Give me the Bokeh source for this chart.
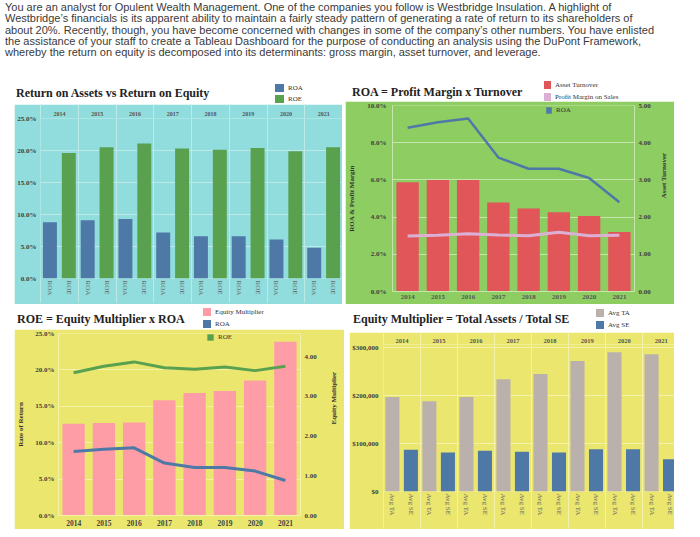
import math
from bokeh.plotting import figure
from bokeh.models import (ColumnDataSource, Range1d, FactorRange, LinearAxis, CategoricalAxis,
                          FixedTicker, PrintfTickFormatter, NumeralTickFormatter,
                          Legend, LegendItem, Div, Grid)
from bokeh.layouts import column, row
from bokeh.embed import file_html
from bokeh.resources import INLINE

# ---------------- data ----------------
years = ["2014", "2015", "2016", "2017", "2018", "2019", "2020", "2021"]
roa_pct = [8.8, 9.1, 9.3, 7.2, 6.6, 6.6, 6.1, 4.8]
roe_pct = [19.6, 20.5, 21.1, 20.3, 20.1, 20.4, 19.9, 20.5]
asset_turnover = [2.94, 3.00, 3.00, 2.39, 2.23, 2.13, 2.03, 1.60]
profit_margin_pct = [2.98, 3.02, 3.10, 3.04, 3.00, 3.18, 3.00, 3.02]
equity_multiplier = [2.31, 2.33, 2.34, 2.90, 3.08, 3.13, 3.40, 4.37]
avg_ta = [197000, 188000, 197000, 234000, 245000, 272000, 290000, 286000]
avg_se = [87000, 81500, 85000, 83000, 81000, 88000, 88000, 67000]
pair_labels_returns = ["ROA", "ROE"]
pair_labels_balance = ["Avg TA", "Avg SE"]
pct_ticks_5 = [0, 5, 10, 15, 20, 25]
pct_ticks_2 = [0, 2, 4, 6, 8, 10]
turnover_ticks = [0, 1, 2, 3, 4, 5]
multiplier_ticks = [0, 1, 2, 3, 4]
dollar_ticks = [0, 100000, 200000, 300000]

intro_lines = [
    "You are an analyst for Opulent Wealth Management. One of the companies you follow is Westbridge Insulation. A highlight of",
    "Westbridge\u2019s financials is its apparent ability to maintain a fairly steady pattern of generating a rate of return to its shareholders of",
    "about 20%. Recently, though, you have become concerned with changes in some of the company\u2019s other numbers. You have enlisted",
    "the assistance of your staff to create a Tableau Dashboard for the purpose of conducting an analysis using the DuPont Framework,",
    "whereby the return on equity is decomposed into its determinants: gross margin, asset turnover, and leverage.",
]

# ---------------- style ----------------
SERIF = "Liberation Serif"
BLUE = "#4e79a7"
GREEN = "#59a14f"
RED = "#e15759"
PINK = "#ff9da7"
LAV = "#dcafd4"
GRAY = "#bab0ac"
CYAN = "#91dcdc"
LGREEN = "#8dcd62"
YELLOW = "#ebe76e"
GRID_CYAN = "#bde9e9"
GRID_GREEN = "#c6e6ae"
GRID_YELLOW = "#f4f1a8"
TXT = "#404040"
NAN = float("nan")


def make_fig(w, h, xr, yr, left, right, top, bottom, bg):
    p = figure(width=w, height=h, x_range=xr, y_range=yr, x_axis_type=None, y_axis_type=None,
               min_border_left=left, min_border_right=right, min_border_top=top,
               min_border_bottom=bottom, output_backend="svg", toolbar_location=None, tools="")
    p.outline_line_color = None
    p.border_fill_color = bg
    p.background_fill_color = bg
    return p


def header_div(w, h, title, title_left, title_cy, items, item_left, item_cys, sq_w):
    parts = ['<div style="position:relative;width:%dpx;height:%dpx;">' % (w, h)]
    parts.append(
        '<div style="position:absolute;left:%spx;top:%spx;font-family:\'Liberation Serif\',serif;'
        'font-weight:bold;font-size:12px;line-height:14px;color:#222;white-space:nowrap;">%s</div>'
        % (title_left, title_cy - 7, title))
    for (label, color), cy in zip(items, item_cys):
        parts.append('<div style="position:absolute;left:%spx;top:%spx;width:%dpx;height:8px;'
                     'background:%s;"></div>' % (item_left, cy - 4, sq_w, color))
        parts.append(
            '<div style="position:absolute;left:%spx;top:%spx;font-family:\'Liberation Serif\',serif;'
            'font-size:7px;line-height:10px;color:#333;white-space:nowrap;">%s</div>'
            % (item_left + sq_w + 4, cy - 5, label))
    parts.append('</div>')
    return Div(text="".join(parts), width=w, height=h, margin=0)


def style_axis(ax, size="7px", bold=True, color=TXT, standoff=4):
    ax.major_label_text_font = SERIF
    ax.major_label_text_font_size = size
    ax.major_label_text_font_style = "bold" if bold else "normal"
    ax.major_label_text_color = color
    ax.major_tick_line_color = None
    ax.minor_tick_line_color = None
    ax.axis_line_color = None
    ax.major_tick_out = 0
    ax.major_tick_in = 0
    ax.minor_tick_out = 0
    ax.minor_tick_in = 0
    ax.major_label_standoff = standoff
    ax.axis_label_text_font = SERIF
    ax.axis_label_text_font_size = "7px"
    ax.axis_label_text_font_style = "bold"
    ax.axis_label_text_color = "#333333"


def axis_title(ax, text, standoff, bottom_to_top=False):
    ax.axis_label = text
    ax.axis_label_standoff = standoff
    if bottom_to_top and hasattr(ax, "axis_label_orientation"):
        ax.axis_label_orientation = math.pi / 2


def add_legend(p, items, loc, gw, gh, spacing):
    lg = Legend(items=[LegendItem(label=t, renderers=[r]) for t, r in items],
                location=loc, orientation="vertical", glyph_width=gw, glyph_height=gh,
                label_height=gh, label_width=10, spacing=spacing, padding=0, margin=0,
                label_standoff=4, border_line_color=None, background_fill_alpha=0.0,
                label_text_font=SERIF, label_text_font_size="7px",
                label_text_color="#333333")
    p.add_layout(lg, "center")


def proxy(p, x0, color):
    # legend-only renderer: NaN height, so nothing is drawn in the plot
    return p.vbar(x=[x0], top=[NAN], width=0.5, fill_color=color, line_color=None)


n = len(years)
boundaries = list(range(n + 1))
centers = [round(i + 0.5, 2) for i in range(n)]

# ================= Top-left: ROA vs ROE =================
tl_head = header_div(328, 28, "Return on Assets vs Return on Equity", 2, 17,
                     [("ROA", BLUE), ("ROE", GREEN)], 261, [12, 23], 9)

tl = make_fig(328, 200, Range1d(0, 8), Range1d(0, 25), 23, 0, 14, 26, CYAN)
x_first = [round(i + 0.25, 2) for i in range(n)]
x_second = [round(i + 0.75, 2) for i in range(n)]
tl.add_layout(Grid(dimension=0, ticker=FixedTicker(ticks=boundaries),
                   grid_line_color=GRID_CYAN, grid_line_width=1))
tl.add_layout(Grid(dimension=1, ticker=FixedTicker(ticks=pct_ticks_5),
                   grid_line_color=GRID_CYAN, grid_line_width=1))
src_tl = ColumnDataSource(dict(xa=x_first, xb=x_second, roa=roa_pct, roe=roe_pct))
tl.vbar(x="xa", top="roa", width=0.37, source=src_tl, fill_color=BLUE, line_color=None)
tl.vbar(x="xb", top="roe", width=0.37, source=src_tl, fill_color=GREEN, line_color=None)

ax = LinearAxis(ticker=FixedTicker(ticks=pct_ticks_5), formatter=PrintfTickFormatter(format="%.1f%%"))
style_axis(ax, standoff=4)
tl.add_layout(ax, "left")

overrides = {}
for i in range(n):
    overrides[x_first[i]] = pair_labels_returns[0]
    overrides[x_second[i]] = pair_labels_returns[1]
ax = LinearAxis(ticker=FixedTicker(ticks=x_first + x_second, minor_ticks=boundaries),
                major_label_overrides=overrides, major_label_orientation="vertical")
style_axis(ax, size="7px", bold=False, color="#666666", standoff=-22)
ax.minor_tick_out = 24
ax.minor_tick_line_color = GRID_CYAN
tl.add_layout(ax, "below")

ax = LinearAxis(ticker=FixedTicker(ticks=centers, minor_ticks=boundaries),
                major_label_overrides={centers[i]: years[i] for i in range(n)})
style_axis(ax, size="6px", bold=True, color="#555555", standoff=-11)
ax.minor_tick_out = 14
ax.minor_tick_line_color = GRID_CYAN
tl.add_layout(ax, "above")

# ================= Top-right: ROA = Profit Margin x Turnover =================
tr_head = header_div(329, 25, "ROA = Profit Margin x Turnover", 7, 16,
                     [("Asset Turnover", RED), ("Profit Margin on Sales", LAV)], 199, [9, 21], 7)

tr = make_fig(329, 203, FactorRange(*years), Range1d(0, 10), 46, 35, 4, 13, LGREEN)
tr.extra_y_ranges = {"turn": Range1d(0, 5)}
tr.add_layout(Grid(dimension=1, ticker=FixedTicker(ticks=pct_ticks_2),
                   grid_line_color=GRID_GREEN, grid_line_width=1.2))
src_tr = ColumnDataSource(dict(year=years, at=asset_turnover, roa=roa_pct, pm=profit_margin_pct))
tr.vbar(x="year", top="at", width=0.74, source=src_tr, y_range_name="turn",
        fill_color=RED, line_color=None)
tr.line(x="year", y="pm", source=src_tr, line_color=LAV, line_width=3)
tr.line(x="year", y="roa", source=src_tr, line_color=BLUE, line_width=2.5)
add_legend(tr, [("ROA", proxy(tr, years[0], BLUE))], (153, 177.5), 7, 8, 4)

ax = LinearAxis(ticker=FixedTicker(ticks=pct_ticks_2), formatter=PrintfTickFormatter(format="%.1f%%"))
style_axis(ax, standoff=6)
ax.axis_line_color = GRID_GREEN
axis_title(ax, "ROA & Profit Margin", 8)
tr.add_layout(ax, "left")
ax = LinearAxis(y_range_name="turn", ticker=FixedTicker(ticks=turnover_ticks),
                formatter=PrintfTickFormatter(format="%.2f"))
style_axis(ax, standoff=4)
ax.axis_line_color = GRID_GREEN
axis_title(ax, "Asset Turnover", 10, bottom_to_top=True)
tr.add_layout(ax, "right")
ax = CategoricalAxis()
style_axis(ax, size="7px", bold=True, color="#555555", standoff=3)
ax.axis_line_color = GRID_GREEN
tr.add_layout(ax, "below")

# ================= Bottom-left: ROE = Equity Multiplier x ROA =================
bl_head = header_div(330, 25, "ROE = Equity Multiplier x ROA", 3, 15,
                     [("Equity Multiplier", PINK), ("ROA", BLUE)], 189, [8, 20], 8)

bl = make_fig(330, 200, FactorRange(*years), Range1d(0, 25), 41, 42, 4, 14, YELLOW)
bl.extra_y_ranges = {"em": Range1d(0, 4.58)}
bl.add_layout(Grid(dimension=1, ticker=FixedTicker(ticks=pct_ticks_5),
                   grid_line_color=GRID_YELLOW, grid_line_width=1))
src_bl = ColumnDataSource(dict(year=years, em=equity_multiplier, roa=roa_pct, roe=roe_pct))
bl.vbar(x="year", top="em", width=0.74, source=src_bl, y_range_name="em",
        fill_color=PINK, line_color=None)
bl.line(x="year", y="roe", source=src_bl, line_color=GREEN, line_width=3)
bl.line(x="year", y="roa", source=src_bl, line_color=BLUE, line_width=3)
add_legend(bl, [("ROE", proxy(bl, years[0], GREEN))], (148, 174), 8, 8, 4)

ax = LinearAxis(ticker=FixedTicker(ticks=pct_ticks_5), formatter=PrintfTickFormatter(format="%.1f%%"))
style_axis(ax, standoff=4)
ax.axis_line_color = GRID_YELLOW
axis_title(ax, "Rate of Return", 7)
bl.add_layout(ax, "left")
ax = LinearAxis(y_range_name="em", ticker=FixedTicker(ticks=multiplier_ticks),
                formatter=PrintfTickFormatter(format="%.2f"))
style_axis(ax, standoff=4)
ax.axis_line_color = GRID_YELLOW
axis_title(ax, "Equity Multiplier", 14, bottom_to_top=True)
bl.add_layout(ax, "right")
ax = CategoricalAxis()
style_axis(ax, size="7.5px", bold=True, color="#444444", standoff=4)
ax.axis_line_color = GRID_YELLOW
bl.add_layout(ax, "below")

# ================= Bottom-right: Equity Multiplier = TA / SE =================
br_head = header_div(325, 28, "Equity Multiplier = Total Assets / Total SE", 4, 15,
                     [("Avg TA", GRAY), ("Avg SE", BLUE)], 247, [9, 21], 8)

br = make_fig(325, 197, Range1d(0, 7.86), Range1d(0, 306250), 33, 0, 12, 38, YELLOW)
xa = [round(i + 0.24, 2) for i in range(n)]
xb = [round(i + 0.74, 2) for i in range(n)]
br.add_layout(Grid(dimension=0, ticker=FixedTicker(ticks=boundaries),
                   grid_line_color=GRID_YELLOW, grid_line_width=1))
br.add_layout(Grid(dimension=1, ticker=FixedTicker(ticks=dollar_ticks),
                   grid_line_color=GRID_YELLOW, grid_line_width=1))
src_br = ColumnDataSource(dict(xa=xa, xb=xb, ta=avg_ta, se=avg_se))
br.vbar(x="xa", top="ta", width=0.38, source=src_br, fill_color=GRAY, line_color=None)
br.vbar(x="xb", top="se", width=0.38, source=src_br, fill_color=BLUE, line_color=None)

ax = LinearAxis(ticker=FixedTicker(ticks=dollar_ticks), formatter=NumeralTickFormatter(format="$0,0"))
style_axis(ax, standoff=5)
br.add_layout(ax, "left")

overrides = {}
for i in range(n):
    overrides[xa[i]] = pair_labels_balance[0]
    overrides[xb[i]] = pair_labels_balance[1]
ax = LinearAxis(ticker=FixedTicker(ticks=xa + xb, minor_ticks=boundaries),
                major_label_overrides=overrides, major_label_orientation="vertical")
style_axis(ax, size="7px", bold=False, color="#666666", standoff=-35)
ax.minor_tick_out = 37
ax.minor_tick_line_color = GRID_YELLOW
br.add_layout(ax, "below")

ax = LinearAxis(ticker=FixedTicker(ticks=centers, minor_ticks=boundaries),
                major_label_overrides={centers[i]: years[i] for i in range(n)})
style_axis(ax, size="6.5px", bold=True, color="#555555", standoff=-10)
ax.minor_tick_out = 12
ax.minor_tick_line_color = GRID_YELLOW
br.add_layout(ax, "above")

# ================= page =================
html = ('<div style="position:relative;top:2px;left:5px;font-family:\'Liberation Sans\',sans-serif;'
        'font-size:11px;line-height:11.3px;color:#3a3a3a;white-space:nowrap;">'
        + "<br>".join(intro_lines) + "</div>")
intro = Div(text=html, width=690, height=76, margin=0)


def gap(w, h):
    return Div(text="", width=w, height=h, margin=0)


layout = column(
    intro,
    row(gap(14, 228), column(tl_head, tl), gap(3, 228), column(tr_head, tr)),
    row(gap(14, 225), column(bl_head, bl), gap(5, 225), column(br_head, br)),
)

open("out.html", "w").write(file_html(layout, INLINE))
